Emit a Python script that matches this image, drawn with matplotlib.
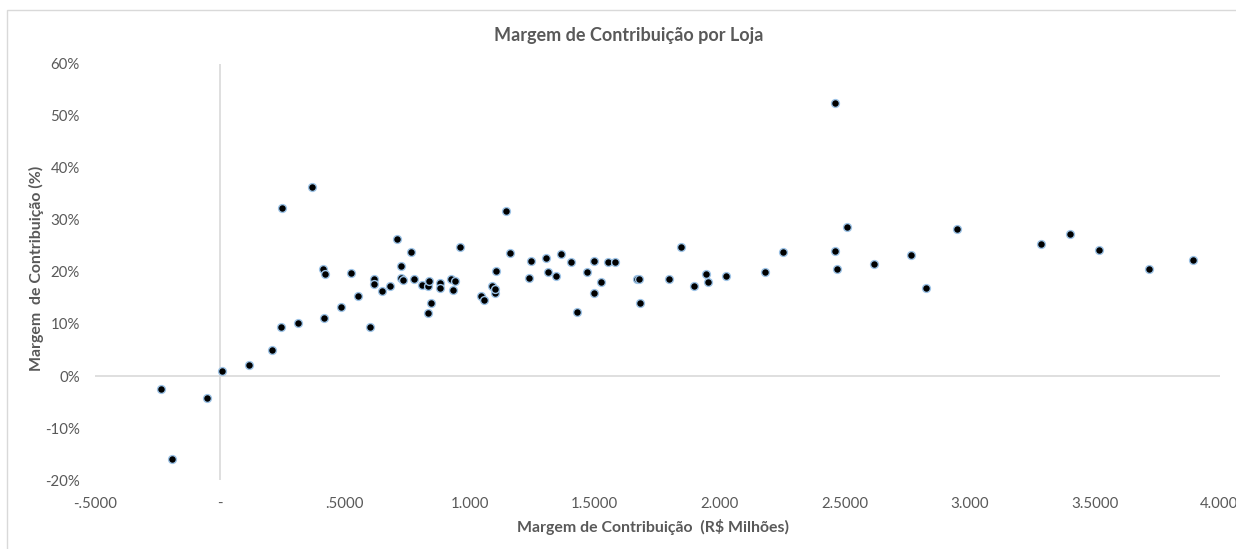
import matplotlib.pyplot as plt
from matplotlib.patches import Rectangle
from matplotlib.ticker import FuncFormatter

# margem de contribuicao (R$ milhoes) x margem (%)
mc_milhoes = [-0.237, -0.191, -0.053, 0.009, 0.117, 0.210, 0.243, 0.247, 0.311, 0.367,
              0.411, 0.421, 0.415, 0.485, 0.523, 0.551, 0.602, 0.615, 0.615, 0.649,
              0.681, 0.707, 0.723, 0.725, 0.731, 0.763, 0.775, 0.810, 0.831, 0.835,
              0.833, 0.843, 0.879, 0.879, 0.925, 0.941, 0.933, 0.959, 1.043, 1.055,
              1.087, 1.099, 1.102, 1.105, 1.143, 1.162, 1.237, 1.245, 1.306, 1.314,
              1.345, 1.366, 1.403, 1.429, 1.467, 1.497, 1.497, 1.523, 1.553, 1.581,
              1.669, 1.675, 1.681, 1.797, 1.847, 1.899, 1.945, 1.954, 2.027, 2.183,
              2.255, 2.462, 2.462, 2.469, 2.509, 2.617, 2.765, 2.826, 2.951, 3.287,
              3.403, 3.519, 3.719, 3.894]
mc_pct = [-2.5, -16.0, -4.2, 1.0, 2.1, 5.0, 9.5, 32.3, 10.2, 36.3,
          20.6, 19.7, 11.1, 13.3, 19.9, 15.3, 9.5, 18.6, 17.6, 16.4,
          17.3, 26.3, 21.2, 18.8, 18.4, 23.9, 18.7, 17.5, 17.3, 18.3,
          12.1, 14.1, 17.8, 16.9, 18.7, 18.3, 16.6, 24.9, 15.3, 14.6,
          17.4, 16.0, 16.7, 20.2, 31.7, 23.7, 18.8, 22.2, 22.7, 20.0,
          19.2, 23.5, 21.9, 12.4, 20.0, 22.2, 16.0, 18.0, 21.9, 21.9,
          18.7, 18.7, 14.0, 18.7, 24.8, 17.3, 19.6, 18.0, 19.2, 20.0,
          23.8, 52.5, 24.0, 20.5, 28.7, 21.5, 23.2, 16.9, 28.3, 25.4,
          27.4, 24.2, 20.5, 22.3]

x_ticks = [-0.5, 0, 0.5, 1.0, 1.5, 2.0, 2.5, 3.0, 3.5, 4.0]
x_tick_labels = ['-.5000', '-', '.5000', '1.000', '1.5000', '2.000', '2.5000', '3.000', '3.5000', '4.000']

cinza = '#595959'
plt.rcParams['font.family'] = ['Lato', 'DejaVu Sans']

fig = plt.figure(figsize=(12.36, 5.49), dpi=100)
fig.patches.append(Rectangle((7/1236., -0.1), 1.2, 1.1 - 10/549., transform=fig.transFigure,
                             fill=False, edgecolor='#D9D9D9', linewidth=1))
ax = fig.add_axes([95/1236., 1 - 480/549., 1124.5/1236., 416/549.])

ax.scatter(mc_milhoes, mc_pct, s=32, c='black', edgecolors='#9DC3E6', linewidths=1, zorder=3)

ax.set_xlim(-0.5, 4.0)
ax.set_ylim(-20, 60)
ax.axhline(0, color='#D9D9D9', lw=1.2, zorder=1)
ax.axvline(0, color='#D9D9D9', lw=1.2, zorder=1)
for s in ax.spines.values():
    s.set_visible(False)

ax.set_xticks(x_ticks)
ax.set_xticklabels(x_tick_labels)
ax.set_yticks(range(-20, 61, 10))
ax.yaxis.set_major_formatter(FuncFormatter(lambda v, p: '%d%%' % v))
ax.tick_params(length=0, labelsize=10.8, labelcolor=cinza)
ax.tick_params(axis='x', pad=12)
ax.tick_params(axis='y', pad=11)

fig.text(629/1236., 1 - 35/549., 'Margem de Contribuição por Loja', ha='center', va='center',
         fontsize=13, fontweight='bold', color=cinza)
fig.text(653/1236., 1 - 527/549., 'Margem de Contribuição  (R\\$ Milhões)', ha='center', va='center',
         fontsize=11.4, fontweight='bold', color=cinza)
fig.text(36/1236., 1 - 268/549., 'Margem  de Contribuição (%)', ha='center', va='center',
         rotation=90, fontsize=11.4, fontweight='bold', color=cinza)

plt.savefig('out.png', dpi=100)
plt.close()
